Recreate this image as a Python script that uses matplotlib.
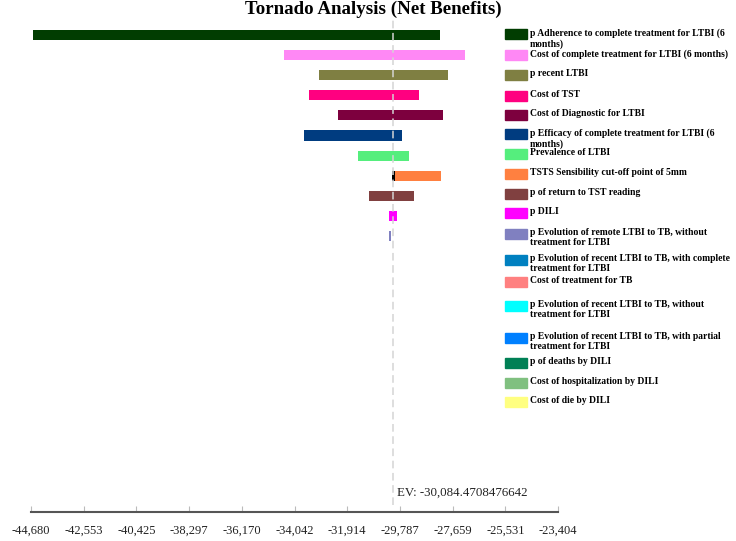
import numpy as np
import matplotlib
matplotlib.use("Agg")
import matplotlib.pyplot as plt
from matplotlib.patches import Rectangle
import matplotlib.transforms as mtransforms

plt.rcParams["font.family"] = ["Liberation Serif", "DejaVu Serif"]

# --- data -------------------------------------------------------------
params = [
    "p Adherence to complete treatment for LTBI (6\nmonths)",
    "Cost of complete treatment for LTBI (6 months)",
    "p recent LTBI",
    "Cost of TST",
    "Cost of Diagnostic for LTBI",
    "p Efficacy of complete treatment for LTBI (6\nmonths)",
    "Prevalence of LTBI",
    "TSTS Sensibility cut-off point of 5mm",
    "p of return to TST reading",
    "p DILI",
    "p Evolution of remote LTBI to TB, without\ntreatment for LTBI",
    "p Evolution of recent LTBI to TB, with complete\ntreatment for LTBI",
    "Cost of treatment for TB",
    "p Evolution of recent LTBI to TB, without\ntreatment for LTBI",
    "p Evolution of recent LTBI to TB, with partial\ntreatment for LTBI",
    "p of deaths by DILI",
    "Cost of hospitalization by DILI",
    "Cost of die by DILI",
]
ev = -30084.4708476642
low = [-44590, -34470, -33040, -33440, -32290, -33650, -31480, -29990, -31040,
       -30240, -30240, ev, ev, ev, ev, ev, ev, ev]
high = [-28170, -27160, -27830, -29010, -28060, -29690, -29420, -28140, -29230,
        -29910, -30160, ev, ev, ev, ev, ev, ev, ev]
# small black piece at the left end of the TSTS bar
black_low = [None] * 7 + [-30110] + [None] * 10
colors = ["#013d01", "#ff88f5", "#7f7f42", "#ff0080", "#7d003e", "#003c80",
          "#55ee7d", "#ff8040", "#804040", "#ff00ff", "#8080c0", "#0080c0",
          "#ff8080", "#00ffff", "#0080ff", "#008055", "#80c080", "#ffff80"]
tick_labels = ["-44,680", "-42,553", "-40,425", "-38,297", "-36,170", "-34,042",
               "-31,914", "-29,787", "-27,659", "-25,531", "-23,404"]
tick_values = [float(t.replace(",", "")) for t in tick_labels]

# --- figure -----------------------------------------------------------
W, H = 736, 541
fig = plt.figure(figsize=(W / 100, H / 100), dpi=100)
ax = fig.add_axes([31 / W, 1 - 512 / H, (558 - 31) / W, (512 - 20) / H])

y = np.arange(len(params))
ax.barh(y, np.array(high) - np.array(low), left=low, height=0.5,
        color=colors, zorder=2)
for i, bl in enumerate(black_low):
    if bl is not None:
        ax.barh(i, low[i] - bl, left=bl, height=0.5, color="black", zorder=2)

ax.axvline(ev, ymin=0.014, ymax=1, color="#d4d4d4", lw=1.1,
           linestyle=(0, (5, 3)), zorder=3)
trans = mtransforms.blended_transform_factory(ax.transData, ax.transAxes)
ax.annotate("EV: -30,084.4708476642", xy=(ev, 0.04), xycoords=trans,
            xytext=(3, 0), textcoords="offset points",
            ha="left", va="center", fontsize=9.3, color="#222222")

ax.set_xlim(tick_values[0], tick_values[-1])
ax.set_ylim(23.73, -0.746)
ax.set_xticks(tick_values)
ax.set_xticklabels(tick_labels, fontsize=9)
ax.set_yticks([])
for s in ["top", "right", "left"]:
    ax.spines[s].set_visible(False)
ax.spines["bottom"].set_color("#555555")
ax.spines["bottom"].set_linewidth(1.5)
ax.tick_params(axis="x", direction="in", length=4, color="#bbbbbb",
               pad=9, labelcolor="#222222")

# --- title and legend drawn in pixel space ----------------------------
ov = fig.add_axes([0, 0, 1, 1], facecolor="none")
ov.set_xlim(0, W)
ov.set_ylim(H, 0)
ov.axis("off")
ov.text(373, 9, "Tornado Analysis (Net Benefits)", ha="center", va="center",
        fontsize=13.6, fontweight="bold")

legend_y = [34, 55, 75, 96, 115, 134, 154, 174, 194, 213, 234, 260, 282,
            306, 338, 363, 383, 402]
for name, c, ly in zip(params, colors, legend_y):
    ov.add_patch(Rectangle((505, ly - 5), 22, 10, color=c))
    ov.text(530, ly - 6, name, ha="left", va="top", fontsize=6.9,
            fontweight="bold", linespacing=1.2)

fig.savefig("out.png", dpi=100)
